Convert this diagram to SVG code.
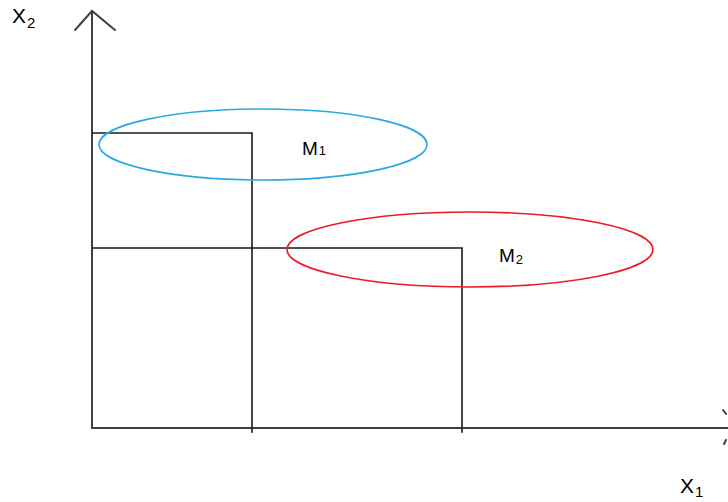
<svg xmlns="http://www.w3.org/2000/svg" width="728" height="502" viewBox="0 0 728 502">
<style>
.ax{stroke:#404040;stroke-width:2;fill:none;stroke-linecap:round}
.rc{stroke:#1a1a1a;stroke-width:1.6;fill:none}
.lb{font-family:"Liberation Sans",Arial,sans-serif;font-size:19px;fill:#000}
.ax-lb{font-size:21px}
.sb{font-size:13px}
.sb2{font-size:15px}
</style>
<rect width="728" height="502" fill="#fff"/>
<g id="connectors">
<g id="axis-x2">
<line class="ax" x1="92" y1="11" x2="92" y2="428"/>
<polyline class="ax" points="75,30 92,11 115,30"/>
</g>
<g id="axis-x1">
<line class="ax" x1="92" y1="428" x2="728" y2="428"/>
<line class="ax" x1="723" y1="410" x2="726" y2="414"/>
<line class="ax" x1="724" y1="444" x2="726" y2="440"/>
</g>
<line class="ax" x1="252" y1="428" x2="252" y2="432"/>
<line class="ax" x1="462" y1="428" x2="462" y2="432"/>
</g>
<g id="rect1"><polyline class="rc" points="92,133 252,133 252,428"/></g>
<g id="rect2"><polyline class="rc" points="92,248 462,248 462,428"/></g>
<g id="m1">
<ellipse cx="263" cy="144.5" rx="164" ry="35.5" fill="none" stroke="#29abe2" stroke-width="1.6"/>
<text class="lb" x="302" y="155">M<tspan class="sb" dx="1">1</tspan></text>
</g>
<g id="m2">
<ellipse cx="470" cy="249.5" rx="183" ry="37.5" fill="none" stroke="#ed1c24" stroke-width="1.6"/>
<text class="lb" x="499" y="262">M<tspan class="sb" dx="1" dy="2">2</tspan></text>
</g>
<g id="label-x2"><text class="lb ax-lb" x="12" y="23">X<tspan class="sb2" dx="1" dy="5">2</tspan></text></g>
<g id="label-x1"><text class="lb ax-lb" x="680" y="493">X<tspan class="sb2" dx="1" dy="4">1</tspan></text></g>
</svg>
